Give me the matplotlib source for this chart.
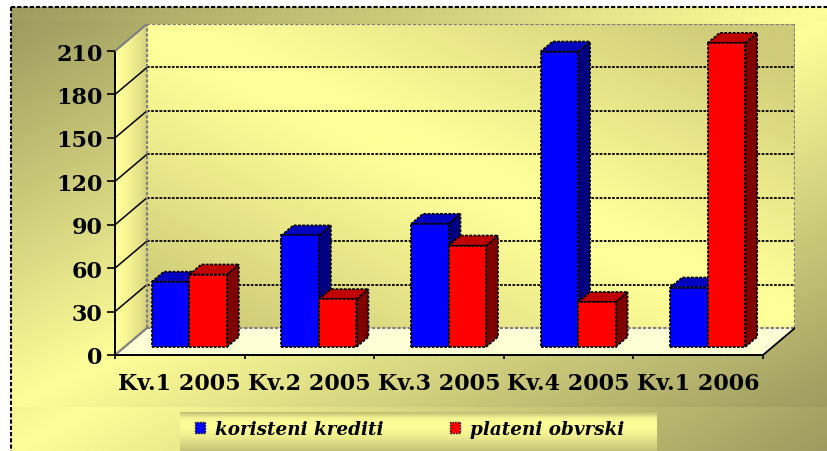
import numpy as np
import matplotlib
matplotlib.use("Agg")
import matplotlib.pyplot as plt
from matplotlib.patches import Polygon, Rectangle, Patch
from matplotlib.colors import to_rgb
from matplotlib.font_manager import FontProperties

# ---- data -------------------------------------------------------------
categories = ["Kv.1 2005", "Kv.2 2005", "Kv.3 2005", "Kv.4 2005", "Kv.1 2006"]
koristeni_krediti = [45, 77, 85, 204, 41]
plateni_obvrski = [50, 33, 70, 31, 210]
series_names = ["koristeni krediti", "plateni obvrski"]
yticks = [0, 30, 60, 90, 120, 150, 180, 210]

# face colours: front, top, side
blue_faces = ("#0000ff", "#0000c0", "#000080")
red_faces = ("#ff0000", "#c00000", "#800000")

plt.rcParams["font.family"] = ["DejaVu Serif"]
plt.rcParams["font.weight"] = "bold"

W, H = 828, 452
fig = plt.figure(figsize=(W / 100, H / 100), dpi=100)
fig.patch.set_facecolor("white")

OLIVE = np.array(to_rgb("#9d9b5f"))
YEL = np.array(to_rgb("#ffff99"))
WALL_DARK = np.array(to_rgb("#cfcb78"))
SIDE_DARK = np.array(to_rgb("#d6d27e"))


def blend(a, b, t):
    return a + (b - a) * t[..., None]


def grid01(nx, ny):
    return np.meshgrid(np.linspace(0, 1, nx), np.linspace(0, 1, ny))


# ---- chart-area background (pixel space) ------------------------------
bg = fig.add_axes([0, 0, 1, 1])
bg.set_xlim(0, W)
bg.set_ylim(H, 0)
bg.axis("off")

X, Y = grid01(300, 200)          # Y runs top -> bottom
u = (X + Y) / 2
tri = 1 - np.abs(2 * u - 1)
bg.imshow(blend(OLIVE, YEL, tri), extent=(11, W, H, 8), origin="upper",
          aspect="auto", interpolation="bilinear", zorder=0)
bg.imshow(blend(OLIVE, YEL, tri), extent=(11, W, 408, 22), origin="upper",
          aspect="auto", interpolation="bilinear", zorder=1)
bg.plot([11, 11], [8, H], color="black", lw=1.5, ls=(0, (2, 1)), zorder=2)
bg.plot([11, W], [8, 8], color="black", lw=1.5, ls=(0, (2, 1)), zorder=2)

# legend band
yy = np.linspace(0, 1, 60)
prof = np.interp(yy, [0, 0.15, 0.35, 0.6, 1.0], [0.35, 0.9, 1.0, 0.85, 0.4])
band = blend(OLIVE, YEL, np.tile(prof[:, None], (1, 50)))
bg.imshow(band, extent=(180, 657, H, 413), origin="upper", aspect="auto",
          interpolation="bilinear", zorder=3)
bg.set_xlim(0, W)
bg.set_ylim(H, 0)

# ---- plot area with oblique depth --------------------------------------
n = len(categories)
ymax = yticks[-1]
px_per_cat = 129.6
px_per_val = 303.7 / ymax
DX = 32 / px_per_cat
DY = 27 / px_per_val

ax = fig.add_axes([115 / W, (H - 356) / H, 680 / W, 331 / H])
ax.patch.set_alpha(0)

# back wall: light along the main diagonal, darker toward the
# bottom-left and top-right corners
X, Y = grid01(200, 200)
v2 = (X + 1 - Y) / 2
wall = blend(YEL, WALL_DARK, np.clip(np.abs(2 * v2 - 1) * 1.25 - 0.1, 0, 1))
ax.imshow(wall, extent=(DX, n + DX, DY, ymax + DY), origin="upper",
          aspect="auto", interpolation="bilinear", zorder=0)

# side wall
Xs = np.tile(np.linspace(0, 1, 60)[None, :], (60, 1))
side_img = ax.imshow(blend(YEL, SIDE_DARK, Xs ** 1.6),
                     extent=(0, DX, 0, ymax + DY), origin="upper",
                     aspect="auto", interpolation="bilinear", zorder=0)
side_poly = Polygon([(0, 0), (DX, DY), (DX, ymax + DY), (0, ymax)],
                    closed=True, fc="none", ec="none", transform=ax.transData)
ax.add_patch(side_poly)
side_img.set_clip_path(side_poly)

# floor
ax.add_patch(Polygon([(0, 0), (n, 0), (n + DX, DY), (DX, DY)], closed=True,
                     fc="#ffffd6", ec="none", zorder=0.5))

GRAY = "#808080"
dash = (0, (1.5, 0.8))
for v in yticks:
    edge = v in (0, ymax)
    ax.plot([DX, n + DX], [v + DY, v + DY], color=GRAY if edge else "black",
            lw=1.6 if edge else 1.3, ls=dash, zorder=1)
    ax.plot([0, DX], [v, v + DY], color=GRAY if edge else "black",
            lw=1.6 if edge else 1.1, zorder=1)
ax.plot([DX, DX], [DY, ymax + DY], color=GRAY, lw=1.6, ls=dash, zorder=1)
ax.plot([n + DX, n + DX], [DY, ymax + DY], color=GRAY, lw=1.6, ls=dash, zorder=1)
ax.plot([n, n + DX], [0, DY], color="black", lw=1.3, zorder=1)

# ---- 3D bars -----------------------------------------------------------
bw = 37.5 / px_per_cat
d0, dd = 0.30, 0.37
ox, oy = d0 * DX, d0 * DY
sx, sy = dd * DX, dd * DY
edge_kw = dict(ec="black", lw=1.3, ls=(0, (1.5, 0.8)), joinstyle="miter")

for i in range(n):
    for s, (vals, faces) in enumerate(((koristeni_krediti, blue_faces),
                                       (plateni_obvrski, red_faces))):
        v = vals[i]
        x0 = i + 0.5 - bw + s * bw + ox
        base, top = oy, oy + v
        ax.add_patch(Polygon([(x0 + bw, base), (x0 + bw + sx, base + sy),
                              (x0 + bw + sx, top + sy), (x0 + bw, top)],
                             closed=True, fc=faces[2], zorder=3, **edge_kw))
        ax.add_patch(Polygon([(x0, top), (x0 + bw, top), (x0 + bw + sx, top + sy),
                              (x0 + sx, top + sy)],
                             closed=True, fc=faces[1], zorder=3, **edge_kw))
        ax.add_patch(Rectangle((x0, base), bw, v, fc=faces[0], zorder=3, **edge_kw))

ax.set_xlim(0, n + DX)
ax.set_ylim(0, ymax + DY)

# ---- axes, ticks, labels ----------------------------------------------
for side in ("top", "right"):
    ax.spines[side].set_visible(False)
ax.spines["left"].set_bounds(0, ymax)
ax.spines["bottom"].set_bounds(0, n)
for side in ("left", "bottom"):
    ax.spines[side].set_linestyle((0, (1.5, 0.8)))
    ax.spines[side].set_linewidth(1.4)
    ax.spines[side].set_zorder(4)

ax.set_yticks(yticks)
ax.set_yticklabels([str(t) for t in yticks])
ax.tick_params(axis="y", direction="out", length=6, width=1.2, pad=3,
               labelsize=16)
ax.set_xticks(range(n + 1))
ax.set_xticklabels([""] * (n + 1))
ax.set_xticks([i + 0.5 for i in range(n)], minor=True)
ax.set_xticklabels(categories, minor=True)
ax.tick_params(axis="x", which="major", direction="out", length=3, width=1.2)
ax.tick_params(axis="x", which="minor", length=0, pad=12, labelsize=16)

# ---- legend ------------------------------------------------------------
handles = [Patch(fc=blue_faces[0], ec="black", lw=1, ls=(0, (1, 1))),
           Patch(fc=red_faces[0], ec="black", lw=1, ls=(0, (1, 1)))]
fig.legend(handles, series_names, ncol=2, loc="center left",
           bbox_to_anchor=(195 / W, (H - 430) / H), frameon=False,
           borderpad=0, borderaxespad=0, handlelength=0.55, handleheight=0.55,
           handletextpad=0.55, columnspacing=3.6,
           prop=FontProperties(family="DejaVu Serif", weight="bold",
                               style="italic", size=13.2))

fig.savefig("out.png", dpi=100)
